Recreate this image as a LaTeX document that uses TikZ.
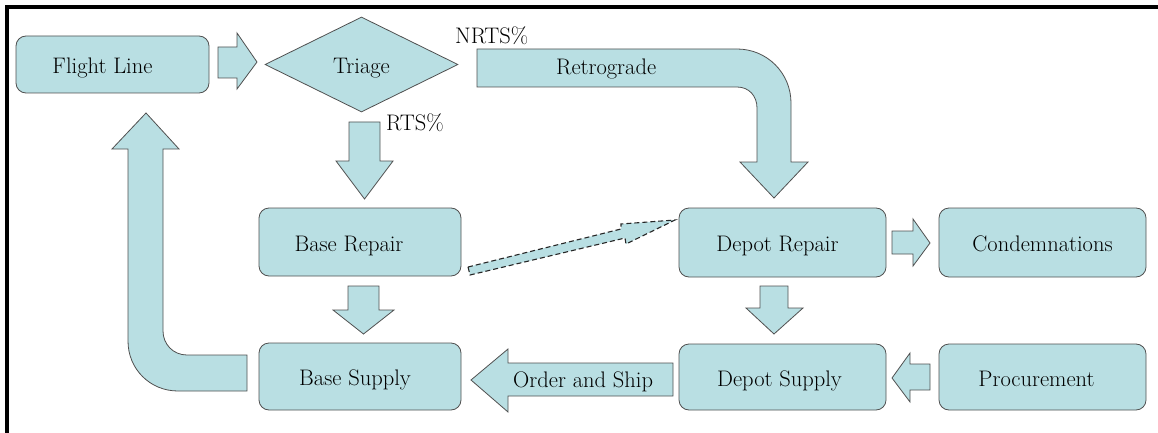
\documentclass[tikz,border=0pt]{standalone}
\usetikzlibrary{shapes.geometric}
\definecolor{fillblue}{RGB}{185,223,227}
\definecolor{edgegray}{RGB}{80,80,80}
\begin{document}
\begin{tikzpicture}[x=1pt,y=-1pt,
  txt/.style={font=\rmfamily\fontsize{22.5}{26}\selectfont},
  box/.style={txt, draw=edgegray, fill=fillblue, line width=0.8pt, rounded corners=10pt,
    inner sep=0pt, text height=20pt, text depth=2pt},
  barrow/.style={draw=edgegray, fill=fillblue, line width=0.8pt, line join=miter},
  lbl/.style={txt, inner sep=0pt},
]
\useasboundingbox (0,0) rectangle (1158,433);

% frame
\draw[line width=3.5pt] (7,433) -- (7,7) -- (1158,7);

% boxes
\node[box, minimum width=193pt, minimum height=57pt] (fl) at (112.5,64.5) {\hspace*{-20pt}Flight Line};
\node[box, diamond, rounded corners=0pt, aspect=2, minimum width=193pt, minimum height=95pt] (tr) at (361.5,64.5) {Triage};
\node[box, minimum width=202pt, minimum height=68pt] (br) at (360,242) {\hspace*{-22pt}Base Repair};
\node[box, minimum width=202pt, minimum height=67pt] (bs) at (360,376.5) {\hspace*{-10pt}Base Supply};
\node[box, minimum width=207pt, minimum height=69pt] (dr) at (782.5,242.5) {\hspace*{-10pt}Depot Repair};
\node[box, minimum width=207pt, minimum height=69pt] (cd) at (1042.5,242.5) {Condemnations};
\node[box, minimum width=207pt, minimum height=66pt] (ds) at (782.5,377) {\hspace*{-6pt}Depot Supply};
\node[box, minimum width=207pt, minimum height=66pt] (pr) at (1042.5,377) {\hspace*{-12pt}Procurement};

% Flight Line -> Triage
\draw[barrow] (218,47) -- (237,47) -- (237,33) -- (257,62) -- (237,89) -- (237,78) -- (218,78) -- cycle;
% Triage -> Base Repair (RTS)
\draw[barrow] (349,122) -- (380,122) -- (380,161) -- (393,161) -- (364.5,199) -- (336,161) -- (349,161) -- cycle;
% Retrograde
\draw[barrow] (477,49) -- (737,49) .. controls (767,49) and (791,73) .. (791,103)
  -- (791,162) -- (808,162) -- (774,198) -- (740,162) -- (757,162) -- (757,108)
  .. controls (757,96) and (749,87) .. (737,87) -- (477,87) -- cycle;
% Base Repair -> Base Supply
\draw[barrow] (348,286) -- (379,286) -- (379,310) -- (394,310) -- (363.5,334) -- (333,310) -- (348,310) -- cycle;
% Order and Ship
\draw[barrow] (673,363) -- (673,396) -- (508,396) -- (508,412) -- (471,380) -- (508,349) -- (508,363) -- cycle;
% Base Supply -> Flight Line
\draw[barrow] (247,355) -- (247,391) -- (178,391) .. controls (150,391) and (128,369) .. (128,341)
  -- (128,149) -- (112,149) -- (146,113) -- (179,149) -- (163,149) -- (163,331)
  .. controls (163,344) and (173,355) .. (187,355) -- cycle;
% Depot Repair -> Condemnations
\draw[barrow] (892,231) -- (913,231) -- (913,219) -- (930,243) -- (913,266) -- (913,254) -- (892,254) -- cycle;
% Depot Repair -> Depot Supply
\draw[barrow] (760,286) -- (788,286) -- (788,308) -- (803,308) -- (774,334) -- (746,308) -- (760,308) -- cycle;
% Procurement -> Depot Supply
\draw[barrow] (930,364) -- (930,390) -- (910,390) -- (910,402) -- (892,378) -- (910,353) -- (910,364) -- cycle;
% dashed Base Repair -> Depot Repair
\draw[barrow, draw=black!85, line width=1.1pt, dash pattern=on 5pt off 3pt]
  (468,267) -- (621,229) -- (621,224) -- (675,220) -- (626,244) -- (625,238) -- (470,275) -- cycle;

% labels
\node[lbl, anchor=base west] (nrts) at (455,44) {NRTS\%};
\node[lbl, anchor=base west] (rts) at (386,130) {RTS\%};
\node[lbl, anchor=base west] (retro) at (556,75) {Retrograde};
\node[lbl, anchor=base west] (ordship) at (513,387) {Order and Ship};
\end{tikzpicture}
\end{document}
